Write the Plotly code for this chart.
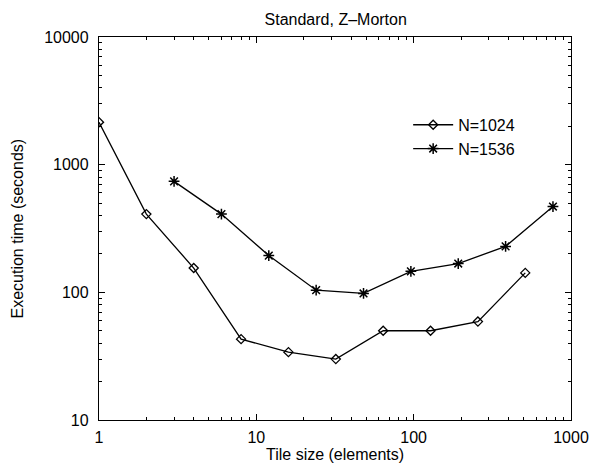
import plotly.graph_objects as go

tile_1024 = [1, 2, 4, 8, 16, 32, 64, 128, 256, 512]
time_1024 = [2150, 410, 155, 43, 34, 30, 50, 50, 59, 142]

tile_1536 = [3, 6, 12, 24, 48, 96, 192, 384, 768]
time_1536 = [740, 410, 194, 104, 98, 146, 168, 229, 470]

title_text = "Standard, Z\u2013Morton"
x_title = "Tile size (elements)"
y_title = "Execution time (seconds)"
x_ticks = [1, 10, 100, 1000]
y_ticks = [10, 100, 1000, 10000]

FONT = "Liberation Sans, Arial, Helvetica, sans-serif"


def minor_vals(decades):
    return [m * d for d in decades for m in range(2, 10)]


fig = go.Figure()
fig.add_trace(go.Scatter(
    x=tile_1024, y=time_1024, mode="lines+markers", name="N=1024",
    line=dict(color="black", width=1.3),
    marker=dict(symbol="diamond-open", size=7, color="black", line=dict(width=1.3)),
))
fig.add_trace(go.Scatter(
    x=tile_1536, y=time_1536, mode="lines+markers", name="N=1536",
    line=dict(color="black", width=1.3),
    marker=dict(symbol="asterisk-open", size=9, color="black", line=dict(width=1.5, color="black")),
))

axis_common = dict(
    type="log", showgrid=False, zeroline=False, automargin=False,
    showline=True, linecolor="black", linewidth=1.3, mirror="allticks",
    ticks="inside", ticklen=6, tickwidth=1, tickcolor="black",
    tickfont=dict(family=FONT, size=16, color="black"),
)

fig.update_xaxes(
    **axis_common, range=[0, 3], tickvals=x_ticks, ticktext=[str(v) for v in x_ticks],
    minor=dict(ticks="inside", ticklen=3, tickwidth=1, tickcolor="black", showgrid=False,
               tickvals=minor_vals([1, 10, 100])),
    ticklabelstandoff=3,
)
fig.update_yaxes(
    **axis_common, range=[1, 4], tickvals=y_ticks, ticktext=[str(v) for v in y_ticks],
    minor=dict(ticks="inside", ticklen=3, tickwidth=1, tickcolor="black", showgrid=False,
               tickvals=minor_vals([10, 100, 1000])),
    ticklabelstandoff=6,
)

fig.update_layout(
    width=590, height=463,
    margin=dict(l=99, r=19, t=37, b=43),
    paper_bgcolor="white", plot_bgcolor="white",
    font=dict(family=FONT, size=16, color="black"),
    title=dict(text=title_text, x=0.569, xanchor="center", y=0.958, yanchor="middle",
               font=dict(family=FONT, size=16, color="black")),
    showlegend=True,
    legend=dict(x=0.655, y=0.815, xanchor="left", yanchor="top",
                bgcolor="rgba(0,0,0,0)", borderwidth=0,
                font=dict(family=FONT, size=16, color="black"),
                tracegroupgap=0, itemwidth=40),
    annotations=[
        dict(text=x_title, xref="paper", yref="paper", x=0.5, y=0,
             xanchor="center", yanchor="middle", yshift=-34, showarrow=False,
             font=dict(family=FONT, size=16, color="black")),
        dict(text=y_title, xref="paper", yref="paper", x=0, y=0.5,
             xanchor="center", yanchor="middle", xshift=-82, textangle=-90,
             showarrow=False, font=dict(family=FONT, size=16, color="black")),
    ],
)

fig.write_html("out.html")
